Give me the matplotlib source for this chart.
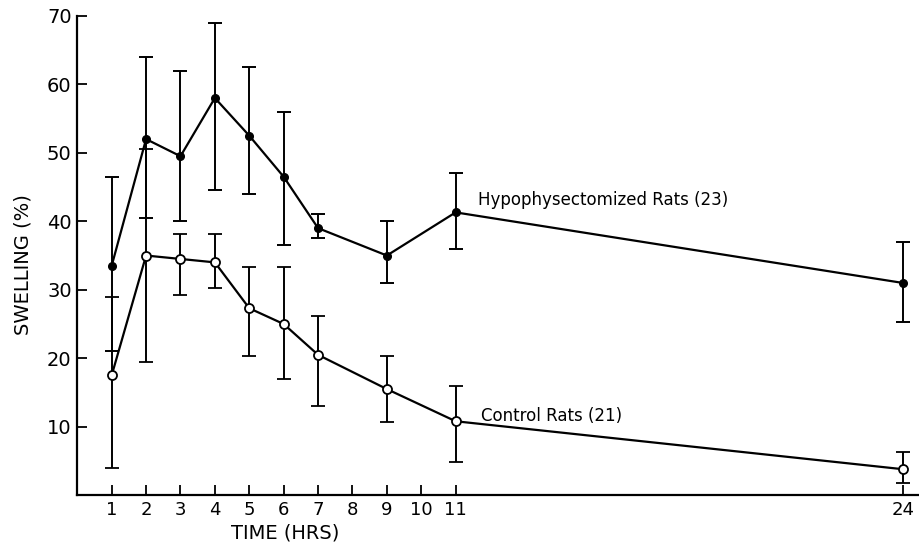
import matplotlib
matplotlib.use("Agg")
import matplotlib.pyplot as plt

# time points (hours)
hours = [1, 2, 3, 4, 5, 6, 7, 9, 11, 24]

# hypophysectomized rats: mean swelling and error bar limits
hypo_mean = [33.5, 52, 49.5, 58, 52.5, 46.5, 39, 35, 41.3, 31]
hypo_low = [21, 40.5, 40, 44.5, 44, 36.5, 37.5, 31, 36, 25.3]
hypo_high = [46.5, 64, 62, 69, 62.5, 56, 41, 40, 47, 37]

# control rats
ctrl_mean = [17.5, 35, 34.5, 34, 27.3, 25, 20.5, 15.5, 10.8, 3.8]
ctrl_low = [4, 19.5, 29.3, 30.2, 20.3, 17, 13, 10.7, 4.9, 1.8]
ctrl_high = [29, 50.5, 38.2, 38.1, 33.3, 33.3, 26.2, 20.4, 16, 6.3]

x_ticks = [1, 2, 3, 4, 5, 6, 7, 8, 9, 10, 11, 24]
y_ticks = [10, 20, 30, 40, 50, 60, 70]

fig = plt.figure(figsize=(9.2, 5.46), dpi=100)
ax = fig.add_axes([0.084, 0.093, 0.916, 0.878])

hypo_err = [[m - l for m, l in zip(hypo_mean, hypo_low)],
            [h - m for m, h in zip(hypo_mean, hypo_high)]]
ctrl_err = [[m - l for m, l in zip(ctrl_mean, ctrl_low)],
            [h - m for m, h in zip(ctrl_mean, ctrl_high)]]

ax.errorbar(hours, hypo_mean, yerr=hypo_err, color="black", lw=1.6,
            elinewidth=1.4, capsize=5, capthick=1.4,
            marker="o", ms=5.5, mfc="black", mec="black")
ax.errorbar(hours, ctrl_mean, yerr=ctrl_err, color="black", lw=1.6,
            elinewidth=1.4, capsize=5, capthick=1.4,
            marker="o", ms=6.5, mfc="white", mec="black", mew=1.3)

ax.text(11.65, 43.1, "Hypophysectomized Rats (23)", fontsize=12, va="center")
ax.text(11.75, 11.5, "Control Rats (21)", fontsize=12, va="center")

ax.set_xlim(0, 24.5)
ax.set_ylim(0, 70)
ax.set_xticks(x_ticks)
ax.set_yticks(y_ticks)
ax.tick_params(axis="x", direction="in", length=7, width=1.3, labelsize=13, pad=4)
ax.tick_params(axis="y", direction="in", length=7, width=1.3, labelsize=14, pad=4)

for side in ["top", "right"]:
    ax.spines[side].set_visible(False)
for side in ["left", "bottom"]:
    ax.spines[side].set_linewidth(1.6)

ax.set_xlabel("TIME (HRS)", fontsize=14)
ax.xaxis.set_label_coords(0.247, -0.06)
ax.set_ylabel("SWELLING (%)", fontsize=14)
ax.yaxis.set_label_coords(-0.053, 0.482)

fig.savefig("out.png", dpi=100)
